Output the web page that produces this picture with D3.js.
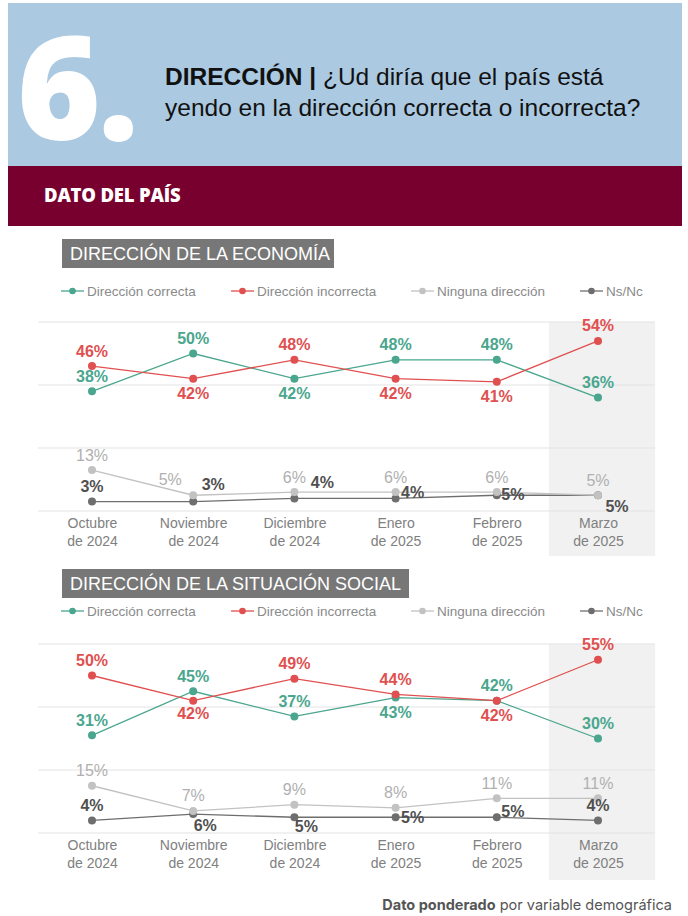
<!DOCTYPE html>
<html>
<head>
<meta charset="utf-8">
<script src="https://cdn.jsdelivr.net/npm/d3@7"></script>
<style>
  body { margin: 0; background: #fff; }
  svg { display: block; }
</style>
</head>
<body>
<svg id="page"></svg>
<script>
// months on the x axis (two lines each)
var months = ["Octubre|de 2024", "Noviembre|de 2024", "Diciembre|de 2024", "Enero|de 2025", "Febrero|de 2025", "Marzo|de 2025"];

var seriesNames = ["Dirección correcta", "Dirección incorrecta", "Ninguna dirección", "Ns/Nc"];

// Dirección de la economía
var econCorrecta   = [38, 50, 42, 48, 48, 36];
var econIncorrecta = [46, 42, 48, 42, 41, 54];
var econNinguna    = [13, 5, 6, 6, 6, 5];
var econNsNc       = [3, 3, 4, 4, 5, 5];

// Dirección de la situación social
var socCorrecta   = [31, 45, 37, 43, 42, 30];
var socIncorrecta = [50, 42, 49, 44, 42, 55];
var socNinguna    = [15, 7, 9, 8, 11, 11];
var socNsNc       = [4, 6, 5, 5, 5, 4];

var yTicks = [0, 20, 40, 60];

// label offsets (dx, dy of label centre from the point), kept apart from the data
var A = [0, -15], B = [0, 15];
var econLabelPos = [
    [A, A, B, A, A, A],
    [A, B, A, B, B, A],
    [A, [-23, -16], A, A, A, A],
    [A, [20, -17], [28, -16], [17, -6], [16, -1], [19, 11]]
];
var socLabelPos = [
    [A, A, A, B, A, A],
    [A, [0, 13], A, A, B, A],
    [A, A, A, A, A, A],
    [A, [12, 11], [12, 9], [17, 0], [16, -6], A]
];

var colors = ["#4aa68e", "#e05050", "#c2c2c2", "#6e6e6e"];
var labelColors = ["#4aa68e", "#e05050", "#b0b0b0", "#505050"];

var W = 688, H = 916;
var svg = d3.select("#page").attr("width", W).attr("height", H);

// ---- header ----
svg.append("rect").attr("x", 8).attr("y", 3).attr("width", 674).attr("height", 163).attr("fill", "#abc9e1");
svg.append("text").attr("x", 17).attr("y", 140)
    .attr("font-family", "'Open Sans', sans-serif").attr("font-weight", 800)
    .attr("font-size", 143).attr("letter-spacing", -3).attr("fill", "#fff")
    .text("6.");

var title = svg.append("text").attr("font-family", "'Liberation Sans', Arial, sans-serif")
    .attr("font-size", 24.5).attr("fill", "#111");
var t1 = title.append("tspan").attr("x", 165).attr("y", 85);
t1.append("tspan").attr("font-weight", "bold").text("DIRECCIÓN | ");
t1.append("tspan").text("¿Ud diría que el país está");
title.append("tspan").attr("x", 165).attr("y", 116).text("yendo en la dirección correcta o incorrecta?");

svg.append("rect").attr("x", 8).attr("y", 166).attr("width", 674).attr("height", 60).attr("fill", "#78002e");
svg.append("text").attr("x", 44).attr("y", 202)
    .attr("font-family", "'Open Sans', sans-serif").attr("font-weight", 800)
    .attr("font-size", 18.5).attr("letter-spacing", -0.2).attr("fill", "#fff")
    .text("DATO DEL PAÍS");

// ---- one chart block ----
function drawChart(cfg) {
    var g = svg.append("g");

    // section title box
    g.append("rect").attr("x", 62).attr("y", cfg.boxY).attr("width", cfg.boxW).attr("height", 29).attr("fill", "#777");
    g.append("text").attr("x", 70).attr("y", cfg.boxY + 21)
        .attr("font-family", "'Liberation Sans', Arial, sans-serif").attr("font-size", 18)
        .attr("fill", "#fff").text(cfg.title);

    // legend
    var legX = [61, 231, 411, 580];
    seriesNames.forEach(function(name, i) {
        var lg = g.append("g").attr("transform", "translate(" + legX[i] + "," + cfg.legendY + ")");
        lg.append("line").attr("x1", 0).attr("x2", 23).attr("stroke", colors[i]).attr("stroke-width", 1.3);
        lg.append("circle").attr("cx", 11.5).attr("r", 3.3).attr("fill", colors[i]);
        lg.append("text").attr("x", 26).attr("y", 5)
            .attr("font-family", "'Liberation Sans', Arial, sans-serif").attr("font-size", 13.5)
            .attr("fill", "#8a8a8a").text(name);
    });

    var x = d3.scalePoint().domain(months).range([92, 598]);
    var y = d3.scaleLinear().domain([0, 60]).range([cfg.y0, cfg.y60]);
    var step = x.step();

    // shaded last month
    g.append("rect")
        .attr("x", x(months[5]) - step * 0.485).attr("y", y(60))
        .attr("width", step * 1.05).attr("height", cfg.shadeBottom - y(60))
        .attr("fill", "#f1f1f1");

    // gridlines
    g.selectAll(".grid").data(yTicks).enter().append("line")
        .attr("x1", 38).attr("x2", 655)
        .attr("y1", d => y(d)).attr("y2", d => y(d))
        .attr("stroke", "#e4e4e4").attr("stroke-width", 1.2);

    // x axis labels
    var xAxis = d3.axisBottom(x).tickSize(0).tickFormat("");
    var ax = g.append("g").attr("transform", "translate(0," + y(0) + ")").call(xAxis);
    ax.select(".domain").remove();
    ax.selectAll(".tick").each(function(d) {
        var parts = d.split("|");
        var t = d3.select(this).append("text")
            .attr("font-family", "'Liberation Sans', Arial, sans-serif").attr("font-size", 14)
            .attr("fill", "#808080").attr("text-anchor", "middle");
        t.append("tspan").attr("x", 0).attr("y", 17).text(parts[0]);
        t.append("tspan").attr("x", 0).attr("y", 35).text(parts[1]);
    });

    var line = d3.line().x((d, i) => x(months[i])).y(d => y(d));

    // draw lower series first
    [3, 2, 0, 1].forEach(function(s) {
        var vals = cfg.series[s];
        g.append("path").datum(vals).attr("d", line)
            .attr("fill", "none").attr("stroke", colors[s]).attr("stroke-width", 1.3);
        g.selectAll(".pt" + s).data(vals).enter().append("circle")
            .attr("cx", (d, i) => x(months[i])).attr("cy", d => y(d))
            .attr("r", 4).attr("fill", colors[s]);
    });

    [3, 2, 0, 1].forEach(function(s) {
        var vals = cfg.series[s];
        g.selectAll(".lb" + s).data(vals).enter().append("text")
            .attr("x", (d, i) => x(months[i]) + cfg.labelPos[s][i][0])
            .attr("y", (d, i) => y(d) + cfg.labelPos[s][i][1] + 5.5)
            .attr("text-anchor", "middle")
            .attr("font-family", "'Liberation Sans Narrow', 'Arial Narrow', 'Liberation Sans', sans-serif")
            .attr("font-weight", s === 2 ? "normal" : "bold")
            .attr("font-size", 16)
            .attr("fill", labelColors[s])
            .text(d => d + "%");
    });
}

drawChart({
    title: "DIRECCIÓN DE LA ECONOMÍA",
    boxY: 239, boxW: 272, legendY: 291,
    y0: 511, y60: 322, shadeBottom: 556,
    series: [econCorrecta, econIncorrecta, econNinguna, econNsNc],
    labelPos: econLabelPos
});

drawChart({
    title: "DIRECCIÓN DE LA SITUACIÓN SOCIAL",
    boxY: 569, boxW: 347, legendY: 611,
    y0: 833, y60: 644, shadeBottom: 880,
    series: [socCorrecta, socIncorrecta, socNinguna, socNsNc],
    labelPos: socLabelPos
});

// footer note
var foot = svg.append("text").attr("x", 672).attr("y", 910).attr("text-anchor", "end")
    .attr("font-family", "Inter, 'Liberation Sans', sans-serif").attr("font-size", 14.5).attr("fill", "#555");
foot.append("tspan").attr("font-weight", "bold").text("Dato ponderado");
foot.append("tspan").text(" por variable demográfica");
</script>
</body>
</html>
